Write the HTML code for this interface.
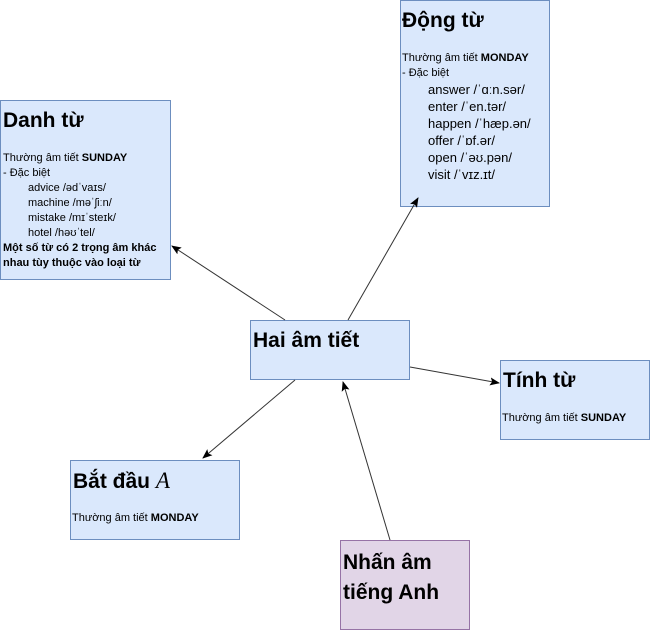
<!DOCTYPE html>
<html><head><meta charset="utf-8"><style>
body{margin:0;width:651px;height:634px;background:#fff;position:relative;font-family:"Liberation Sans",sans-serif;overflow:hidden}
.b{position:absolute;box-sizing:border-box;background:#dae8fc;border:1px solid #6c8ebf;color:#000}
.t{position:absolute;font-weight:bold;font-size:21px;white-space:nowrap}
.s{position:absolute;font-size:11px;line-height:15px;white-space:nowrap}
.i{padding-left:25px}
.v{padding-left:26px;font-size:13px;line-height:17px}
svg{position:absolute;left:0;top:0}
</style></head><body>
<div class="b" style="left:0;top:100px;width:171px;height:180px"></div>
<div class="t" style="left:3px;top:109px">Danh từ</div>
<div class="s" style="left:3px;top:151px">Thường âm tiết <b>SUNDAY</b><br>- Đặc biệt<br><span class="i">advice /ədˈvaɪs/</span><br><span class="i">machine /məˈʃiːn/</span><br><span class="i">mistake /mɪˈsteɪk/</span><br><span class="i">hotel /həʊˈtel/</span><br><b>Một số từ có 2 trọng âm khác<br>nhau tùy thuộc vào loại từ</b></div>

<div class="b" style="left:400px;top:0;width:150px;height:207px"></div>
<div class="t" style="left:402px;top:9px">Động từ</div>
<div class="s" style="left:402px;top:51px">Thường âm tiết <b>MONDAY</b><br>- Đặc biệt
<div class="v">answer /ˈɑːn.sər/<br>enter /ˈen.tər/<br>happen /ˈhæp.ən/<br>offer /ˈɒf.ər/<br>open /ˈəʊ.pən/<br>visit /ˈvɪz.ɪt/</div></div>

<div class="b" style="left:250px;top:320px;width:160px;height:60px"></div>
<div class="t" style="left:253px;top:329px">Hai âm tiết</div>

<div class="b" style="left:500px;top:360px;width:150px;height:80px"></div>
<div class="t" style="left:503px;top:369px">Tính từ</div>
<div class="s" style="left:502px;top:411px">Thường âm tiết <b>SUNDAY</b></div>

<div class="b" style="left:70px;top:460px;width:170px;height:80px"></div>
<div class="t" style="left:73px;top:468px">Bắt đầu <span style="font-family:'Liberation Serif',serif;font-style:italic;font-weight:normal;font-size:23px">A</span></div>
<div class="s" style="left:72px;top:511px">Thường âm tiết <b>MONDAY</b></div>

<div class="b" style="left:340px;top:540px;width:130px;height:90px;background:#e1d5e7;border-color:#9673a6"></div>
<div class="t" style="left:343px;top:548px;line-height:30px">Nhấn âm<br>tiếng Anh</div>

<svg width="651" height="634">
<defs><marker id="a" markerWidth="10" markerHeight="8" refX="9" refY="4" orient="auto" markerUnits="userSpaceOnUse"><path d="M0,0 L10,4 L0,8 L2,4z" fill="#000"/></marker></defs>
<g stroke="#333" stroke-width="1" fill="none" marker-end="url(#a)">
<line x1="285" y1="320" x2="172" y2="246"/>
<line x1="348" y1="320" x2="418" y2="198"/>
<line x1="410" y1="367" x2="499" y2="383"/>
<line x1="295" y1="380" x2="203" y2="458"/>
<line x1="390" y1="540" x2="343" y2="382"/>
</g></svg>
</body></html>
